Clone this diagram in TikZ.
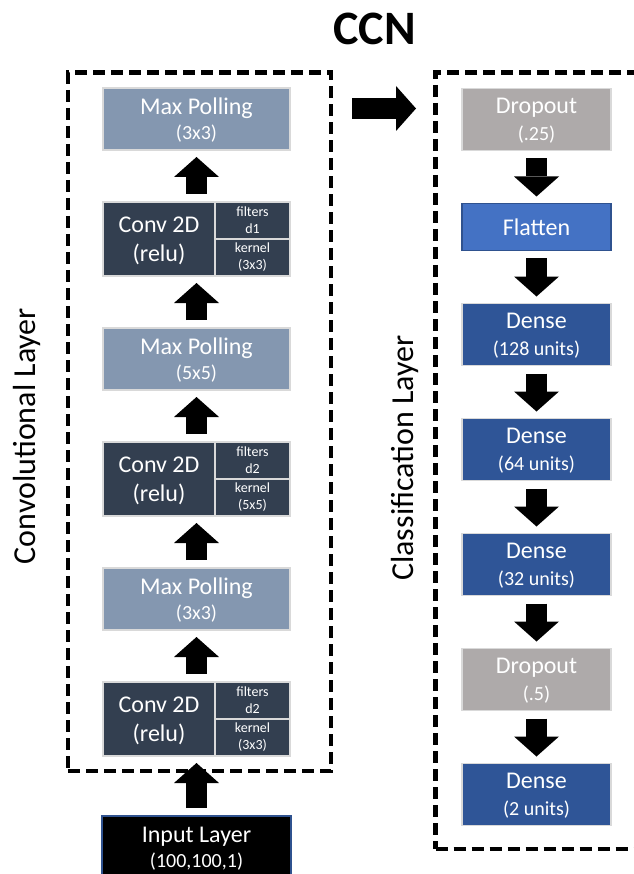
\documentclass[tikz,border=0pt]{standalone}
\usepackage{fontspec}
\setmainfont{Carlito}
\usetikzlibrary{arrows.meta,positioning,fit}

\definecolor{poolgray}{HTML}{8497B0}
\definecolor{convgray}{HTML}{333F50}
\definecolor{dropgray}{HTML}{AEAAAA}
\definecolor{flatblue}{HTML}{4472C4}
\definecolor{denseblue}{HTML}{2F5597}
\definecolor{darkline}{HTML}{2F528F}
\definecolor{boxline}{HTML}{D9D9D9}

\newcommand{\unitline}[1]{{\fontsize{20}{24}\selectfont #1}}

\begin{document}
\begin{tikzpicture}[x=1pt, y=1pt, thick, node distance=52pt]
  \tikzstyle{box}=[draw=boxline, line width=1.2pt, rectangle, text=white, align=center, text depth=0pt, inner sep=0pt, outer sep=0pt]
  \tikzstyle{pool}=[box, fill=poolgray, minimum width=187pt, minimum height=62pt, font=\fontsize{24}{25}\selectfont]
  \tikzstyle{conv}=[box, fill=convgray, minimum width=187pt, minimum height=74pt]
  \tikzstyle{convtxt}=[text=white, align=center, text depth=0pt, font=\fontsize{24}{29}\selectfont]
  \tikzstyle{param}=[text=white, align=center, font=\fontsize{14}{17}\selectfont]
  \tikzstyle{divider}=[draw=boxline, line width=1.2pt]
  \tikzstyle{layer}=[box, minimum width=149pt, minimum height=62pt, font=\fontsize{24}{27}\selectfont]
  \tikzstyle{frame}=[draw, line width=4.5pt, dash pattern=on 12pt off 6pt, inner sep=0pt, outer sep=0pt]
  \tikzstyle{blockarrow}=[line width=21pt, -{Triangle[length=20pt, width=45pt, line width=0pt]}, shorten <=8pt, shorten >=7pt]
  \tikzstyle{sidelabel}=[rotate=90, font=\fontsize{32}{32}\selectfont]

  \useasboundingbox (0,0) rectangle (633,-874);

  \node[font=\bfseries\fontsize{48}{48}\selectfont] (title) at (374.5,-29) {CCN};

  % convolution stack, built upwards from the last conv block
  \node[conv] (conv3) at (196.5,-719) {};
  \node[pool, above=of conv3] (pool3) {Max Polling\\\unitline{(3x3)}};
  \node[conv, above=of pool3] (conv2) {};
  \node[pool, above=of conv2] (pool2) {Max Polling\\\unitline{(5x5)}};
  \node[conv, above=of pool2] (conv1) {};
  \node[pool, above=of conv1] (pool1) {Max Polling\\\unitline{(3x3)}};
  \node[box, fill=black, draw=darkline, minimum width=189pt, minimum height=62pt,
        font=\fontsize{24}{25}\selectfont, below=60pt of conv3] (input) {Input Layer\\\unitline{(100,100,1)}};

  % conv blocks: name on the left, filters / kernel on the right
  \draw[divider] ([xshift=112pt]conv1.north west) -- ([xshift=112pt]conv1.south west);
  \draw[divider] ([xshift=112pt]conv1.west) -- (conv1.east);
  \node[convtxt] (conv1name) at ([xshift=56pt]conv1.west) {Conv 2D\\(relu)};
  \node[param] (conv1filters) at ([xshift=149.5pt,yshift=18.5pt]conv1.west) {filters\\d1};
  \node[param] (conv1kernel) at ([xshift=149.5pt,yshift=-18.5pt]conv1.west) {kernel\\(3x3)};

  \draw[divider] ([xshift=112pt]conv2.north west) -- ([xshift=112pt]conv2.south west);
  \draw[divider] ([xshift=112pt]conv2.west) -- (conv2.east);
  \node[convtxt] (conv2name) at ([xshift=56pt]conv2.west) {Conv 2D\\(relu)};
  \node[param] (conv2filters) at ([xshift=149.5pt,yshift=18.5pt]conv2.west) {filters\\d2};
  \node[param] (conv2kernel) at ([xshift=149.5pt,yshift=-18.5pt]conv2.west) {kernel\\(5x5)};

  \draw[divider] ([xshift=112pt]conv3.north west) -- ([xshift=112pt]conv3.south west);
  \draw[divider] ([xshift=112pt]conv3.west) -- (conv3.east);
  \node[convtxt] (conv3name) at ([xshift=56pt]conv3.west) {Conv 2D\\(relu)};
  \node[param] (conv3filters) at ([xshift=149.5pt,yshift=18.5pt]conv3.west) {filters\\d2};
  \node[param] (conv3kernel) at ([xshift=149.5pt,yshift=-18.5pt]conv3.west) {kernel\\(3x3)};

  % classification stack
  \begin{scope}[node distance=53pt]
    \node[layer, fill=dropgray] (drop1) at (536.5,-119.5) {Dropout\\\unitline{(.25)}};
    \node[layer, fill=flatblue, draw=darkline, minimum height=47pt, below=of drop1] (flatten) {Flatten};
    \node[layer, fill=denseblue, below=of flatten] (dense1) {Dense\\\unitline{(128 units)}};
    \node[layer, fill=denseblue, below=of dense1] (dense2) {Dense\\\unitline{(64 units)}};
    \node[layer, fill=denseblue, below=of dense2] (dense3) {Dense\\\unitline{(32 units)}};
    \node[layer, fill=dropgray, below=of dense3] (drop2) {Dropout\\\unitline{(.5)}};
    \node[layer, fill=denseblue, below=of drop2] (dense4) {Dense\\\unitline{(2 units)}};
  \end{scope}

  % dashed frames and their titles
  \node[frame, fit={([xshift=-35pt,yshift=15.5pt]pool1.north west) ([xshift=41pt,yshift=-15pt]conv3.south east)}] (convlayer) {};
  \node[frame, fit={([xshift=-26.5pt,yshift=16pt]drop1.north west) ([xshift=60pt,yshift=-23.5pt]dense4.south east)}] (classlayer) {};
  \node[sidelabel] (convname) at (27,-436) {Convolutional Layer};
  \node[sidelabel] (classname) at (405,-458) {Classification Layer};

  \draw[blockarrow] (input) -- (conv3);
  \draw[blockarrow] (conv3) -- (pool3);
  \draw[blockarrow] (pool3) -- (conv2);
  \draw[blockarrow] (conv2) -- (pool2);
  \draw[blockarrow] (pool2) -- (conv1);
  \draw[blockarrow] (conv1) -- (pool1);

  \draw[blockarrow] (drop1) -- (flatten);
  \draw[blockarrow] (flatten) -- (dense1);
  \draw[blockarrow] (dense1) -- (dense2);
  \draw[blockarrow] (dense2) -- (dense3);
  \draw[blockarrow] (dense3) -- (drop2);
  \draw[blockarrow] (drop2) -- (dense4);

  \coordinate (handoff) at ([yshift=-36pt]convlayer.north east);
  \draw[blockarrow, shorten <=21pt, shorten >=19.5pt] (handoff) -- (handoff -| classlayer.west);
\end{tikzpicture}
\end{document}
